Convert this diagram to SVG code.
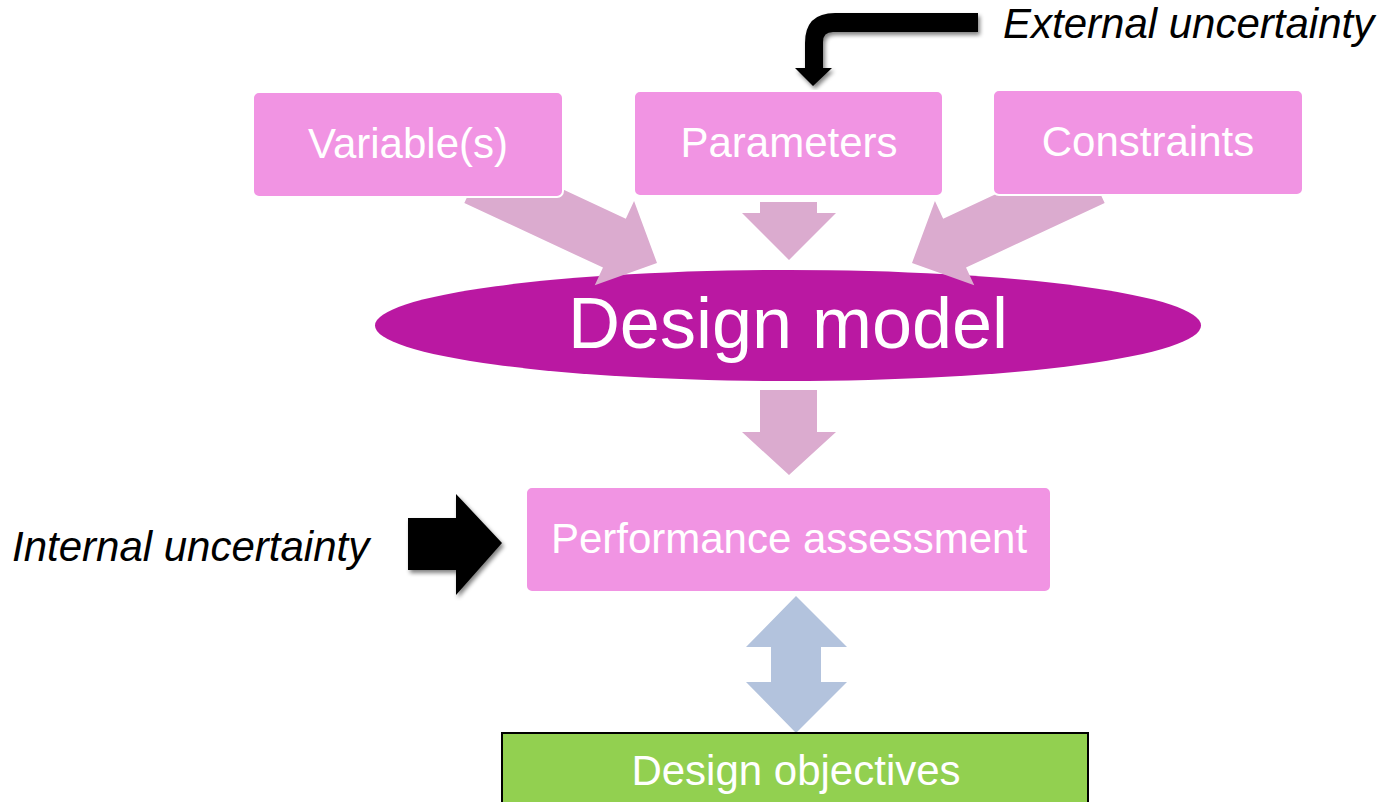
<svg xmlns="http://www.w3.org/2000/svg" width="1385" height="802" viewBox="0 0 1385 802">
<defs>
<style>
.box{fill:#F194E3;stroke:#ffffff;stroke-width:2}
.lbl{font-family:"Liberation Sans",Arial,sans-serif;font-size:42px;fill:#ffffff;text-anchor:middle}
.ital{font-family:"Liberation Sans",Arial,sans-serif;font-size:42px;font-style:italic;fill:#000000}
.parr{fill:#DBABCF}
</style>
<filter id="sh" x="-20%" y="-20%" width="140%" height="140%">
<feGaussianBlur in="SourceAlpha" stdDeviation="2"/>
<feOffset dx="2" dy="3" result="b"/>
<feComponentTransfer><feFuncA type="linear" slope="0.5"/></feComponentTransfer>
<feMerge><feMergeNode/><feMergeNode in="SourceGraphic"/></feMerge>
</filter>
</defs>
<rect width="1385" height="802" fill="#ffffff"/>

<g id="model">
<ellipse cx="788" cy="325.5" rx="413" ry="55.5" fill="#BA18A2"/>
<text x="788" y="348" class="lbl" style="font-size:72px">Design model</text>
</g>

<g id="connectors">
<polygon class="parr" transform="translate(657,263) rotate(25)" points="0,0 -47,-46.5 -47,-27 -200,-27 -200,27 -47,27 -47,46.5"/>
<polygon class="parr" transform="translate(912,263) rotate(155)" points="0,0 -47,-46.5 -47,-27 -200,-27 -200,27 -47,27 -47,46.5"/>
<polygon class="parr" points="760,202 817,202 817,213 836,213 789,260 742,213 760,213"/>
<polygon class="parr" points="760,390 817,390 817,432 836,432 789,475 742,432 760,432"/>
<polygon fill="#B3C3DD" points="796,596 847,647 821,647 821,682 847,682 796,733 746,682 771,682 771,647 746,647"/>
<g filter="url(#sh)">
<path d="M978,13 L835,13 Q805,13 805,43 L805,68 L795,68 L813,86 L832,68 L823,68 L823,42 Q823,32 833,32 L978,32 Z" fill="#000000"/>
<polygon points="408,518 456,518 456,494 502,543 456,595 456,570 408,570" fill="#000000"/>
</g>
</g>

<g id="variables">
<rect class="box" x="253" y="92" width="310" height="105" rx="6"/>
<text x="408" y="158" class="lbl">Variable(s)</text>
</g>
<g id="parameters">
<rect class="box" x="634" y="91" width="309" height="105" rx="6"/>
<text x="789" y="157" class="lbl">Parameters</text>
</g>
<g id="constraints">
<rect class="box" x="993" y="90" width="310" height="105" rx="6"/>
<text x="1148" y="156" class="lbl">Constraints</text>
</g>
<g id="performance">
<rect class="box" x="526" y="487" width="525" height="105" rx="6"/>
<text x="789" y="553" class="lbl">Performance assessment</text>
</g>
<g id="objectives">
<rect x="502" y="733" width="586" height="80" fill="#92D050" stroke="#000000" stroke-width="2"/>
<text x="796" y="785" class="lbl">Design objectives</text>
</g>
<g id="external">
<text x="1003" y="38" class="ital">External uncertainty</text>
</g>
<g id="internal">
<text x="12" y="561" class="ital">Internal uncertainty</text>
</g>
</svg>
